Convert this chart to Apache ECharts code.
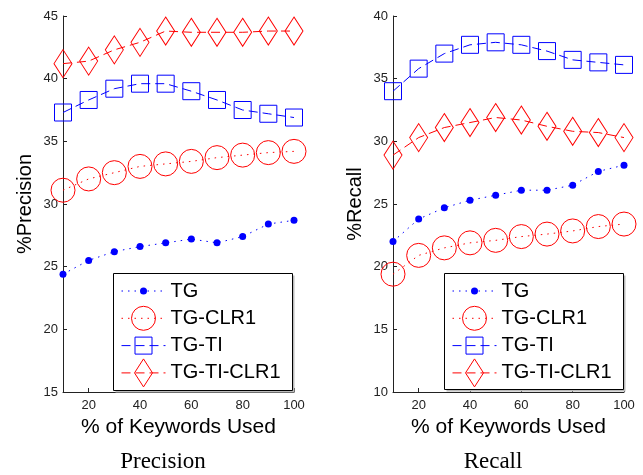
<!DOCTYPE html>
<html>
<head>
<meta charset="utf-8">
<script src="https://cdn.jsdelivr.net/npm/echarts@6/dist/echarts.min.js"></script>
<style>
  html, body { margin: 0; padding: 0; background: #fff; }
  #chart { width: 643px; height: 475px; }
</style>
</head>
<body>
<div id="chart"></div>
<script>
// Percentage of keywords used (x axis)
const keywordPct = [10, 20, 30, 40, 50, 60, 70, 80, 90, 100];
const xTicks = [20, 40, 60, 80, 100];

// Precision (%) per method
const precisionTG = [24.4, 25.5, 26.2, 26.6, 26.9, 27.2, 26.9, 27.4, 28.4, 28.7];
const precisionCLR1 = [31.1, 32.0, 32.5, 33.0, 33.2, 33.4, 33.7, 33.9, 34.1, 34.2];
const precisionTI = [37.3, 38.3, 39.2, 39.6, 39.6, 39.0, 38.3, 37.5, 37.2, 36.9];
const precisionTICLR1 = [41.2, 41.4, 42.3, 42.9, 43.8, 43.7, 43.7, 43.7, 43.8, 43.8];

// Recall (%) per method
const recallTG = [22.0, 23.8, 24.7, 25.3, 25.7, 26.1, 26.1, 26.5, 27.6, 28.1];
const recallCLR1 = [19.4, 20.9, 21.5, 21.9, 22.1, 22.4, 22.6, 22.85, 23.2, 23.4];
const recallTI = [34.0, 35.8, 37.0, 37.7, 37.9, 37.7, 37.2, 36.5, 36.3, 36.1];
const recallTICLR1 = [28.9, 30.3, 31.1, 31.5, 31.9, 31.7, 31.2, 30.8, 30.7, 30.3];

const seriesNames = ['TG', 'TG-CLR1', 'TG-TI', 'TG-TI-CLR1'];

const BLUE = '#0000ff';
const RED = '#ff0000';
const DOT = [1.5, 5];
const DASH = [9, 5];

// Visual style of each method: line colour/dash and marker
const styles = {
  'TG':         { color: BLUE, dash: DOT,  symbol: 'circle',  size: 7,        filled: true },
  'TG-CLR1':    { color: RED,  dash: DOT,  symbol: 'circle',  size: 24,       filled: false },
  'TG-TI':      { color: BLUE, dash: DASH, symbol: 'rect',    size: 17,       filled: false },
  'TG-TI-CLR1': { color: RED,  dash: DASH, symbol: 'diamond', size: [18, 28], filled: false }
};

function makeSeries(name, values, axisIndex) {
  const s = styles[name];
  return {
    name: name,
    type: 'line',
    xAxisIndex: axisIndex,
    yAxisIndex: axisIndex,
    data: keywordPct.map((x, i) => [x, values[i]]),
    symbol: s.symbol,
    symbolSize: s.size,
    showAllSymbol: true,
    lineStyle: { color: s.color, width: 1, type: s.dash },
    itemStyle: {
      color: s.filled ? s.color : 'rgba(0,0,0,0)',
      borderColor: s.color,
      borderWidth: s.filled ? 0 : 1
    },
    emphasis: { disabled: true },
    z: 3
  };
}

const axisColor = '#222';
const fontSans = 'Liberation Sans, Arial, Helvetica, sans-serif';
const fontSerif = 'Liberation Serif, Times New Roman, serif';

function makeXAxis(gridIndex) {
  return {
    type: 'value',
    gridIndex: gridIndex,
    min: 10,
    max: 100,
    name: '% of Keywords Used',
    nameLocation: 'middle',
    nameGap: 22,
    nameTextStyle: { fontSize: 21, color: '#000', fontFamily: fontSans },
    axisLine: { show: true, onZero: false, lineStyle: { color: axisColor, width: 1 } },
    axisTick: { show: true, inside: true, length: 4, customValues: xTicks, lineStyle: { color: axisColor } },
    axisLabel: { customValues: xTicks, fontSize: 13, color: axisColor, margin: 7, fontFamily: fontSans },
    splitLine: { show: false }
  };
}

function makeYAxis(gridIndex, min, max, name) {
  return {
    type: 'value',
    gridIndex: gridIndex,
    min: min,
    max: max,
    interval: 5,
    name: name,
    nameLocation: 'middle',
    nameGap: 28,
    nameTextStyle: { fontSize: 20, color: '#000', fontFamily: fontSans },
    axisLine: { show: true, onZero: false, lineStyle: { color: axisColor, width: 1 } },
    axisTick: { show: true, inside: true, length: 4, lineStyle: { color: axisColor } },
    axisLabel: { fontSize: 13, color: axisColor, margin: 5, fontFamily: fontSans },
    splitLine: { show: false }
  };
}

// Hand-built legend box listing every method with its line and marker
function legendGroup(left, top, width, height) {
  const children = [
    { type: 'rect', shape: { x: 2, y: 2, width: width, height: height },
      style: { fill: '#bbb' }, z: 9 },
    { type: 'rect', shape: { x: 0, y: 0, width: width, height: height },
      style: { fill: '#fff', stroke: '#000', lineWidth: 1 }, z: 10 }
  ];
  seriesNames.forEach((name, i) => {
    const s = styles[name];
    const cy = 17.5 + 27.3 * i;
    const x0 = 8, x1 = 52, cx = 30;
    children.push({ type: 'line', shape: { x1: x0, y1: cy, x2: x1, y2: cy },
      style: { stroke: s.color, lineWidth: 1, lineDash: s.dash }, z: 11 });
    if (s.symbol === 'circle' && s.filled) {
      children.push({ type: 'circle', shape: { cx: cx, cy: cy, r: s.size / 2 },
        style: { fill: s.color }, z: 12 });
    } else if (s.symbol === 'circle') {
      children.push({ type: 'circle', shape: { cx: cx, cy: cy, r: s.size / 2 },
        style: { fill: null, stroke: s.color, lineWidth: 1 }, z: 12 });
    } else if (s.symbol === 'rect') {
      children.push({ type: 'rect', shape: { x: cx - s.size / 2, y: cy - s.size / 2, width: s.size, height: s.size },
        style: { fill: null, stroke: s.color, lineWidth: 1 }, z: 12 });
    } else {
      const w = s.size[0] / 2, h = s.size[1] / 2;
      children.push({ type: 'polygon', shape: { points: [[cx, cy - h], [cx + w, cy], [cx, cy + h], [cx - w, cy]] },
        style: { fill: null, stroke: s.color, lineWidth: 1 }, z: 12 });
    }
    children.push({ type: 'text', x: 57, y: cy,
      style: { text: name, fontSize: 20, fontFamily: fontSans, fill: '#000', textVerticalAlign: 'middle' }, z: 12 });
  });
  return { type: 'group', left: left, top: top, children: children };
}

const chart = echarts.init(document.getElementById('chart'), null, { renderer: 'canvas' });

chart.setOption({
  animation: false,
  backgroundColor: '#fff',
  grid: [
    { left: 63, top: 16, width: 231, height: 376 },
    { left: 393, top: 16, width: 231, height: 376 }
  ],
  xAxis: [makeXAxis(0), makeXAxis(1)],
  yAxis: [makeYAxis(0, 15, 45, '%Precision'), makeYAxis(1, 10, 40, '%Recall')],
  series: [
    makeSeries('TG', precisionTG, 0),
    makeSeries('TG-CLR1', precisionCLR1, 0),
    makeSeries('TG-TI', precisionTI, 0),
    makeSeries('TG-TI-CLR1', precisionTICLR1, 0),
    makeSeries('TG', recallTG, 1),
    makeSeries('TG-CLR1', recallCLR1, 1),
    makeSeries('TG-TI', recallTI, 1),
    makeSeries('TG-TI-CLR1', recallTICLR1, 1)
  ],
  graphic: [
    legendGroup(113, 273, 179, 117),
    legendGroup(444, 273, 179, 116),
    { type: 'text', x: 163, y: 462,
      style: { text: 'Precision', fontSize: 23, fontFamily: fontSerif,
               fill: '#000', textAlign: 'center', textVerticalAlign: 'middle' } },
    { type: 'text', x: 493, y: 462,
      style: { text: 'Recall', fontSize: 23, fontFamily: fontSerif,
               fill: '#000', textAlign: 'center', textVerticalAlign: 'middle' } }
  ]
});
</script>
</body>
</html>
